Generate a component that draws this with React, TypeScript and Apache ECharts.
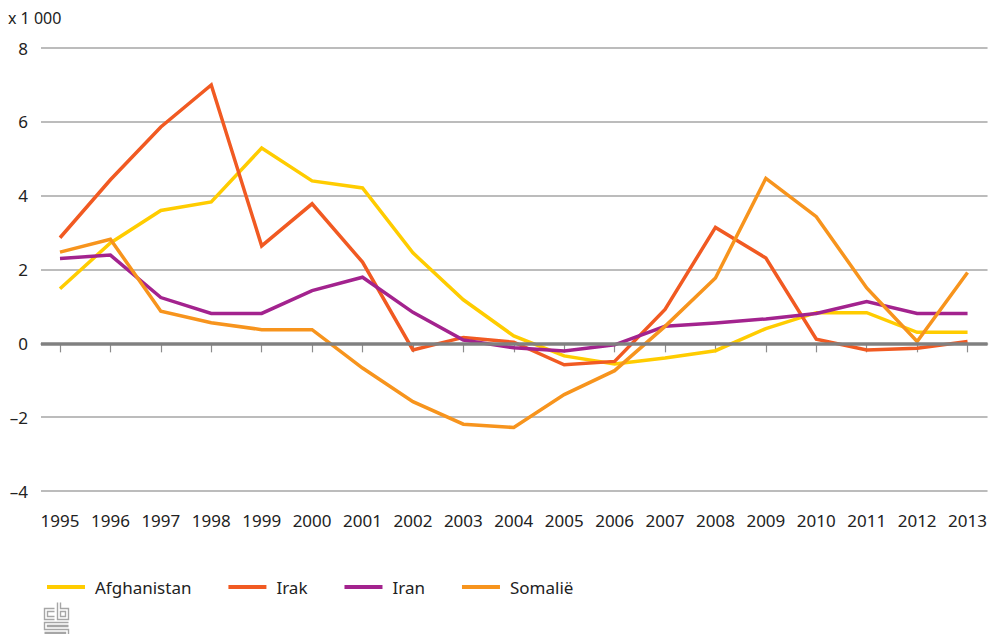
import React, { useEffect, useRef } from "react";
import * as echarts from "echarts";

const years = [1995, 1996, 1997, 1998, 1999, 2000, 2001, 2002, 2003, 2004, 2005, 2006, 2007, 2008, 2009, 2010, 2011, 2012, 2013];
const afghanistan = [1.48, 2.72, 3.6, 3.83, 5.29, 4.4, 4.21, 2.45, 1.18, 0.2, -0.34, -0.56, -0.4, -0.2, 0.4, 0.83, 0.83, 0.3, 0.3];
const irak = [2.86, 4.43, 5.86, 7.0, 2.64, 3.78, 2.2, -0.18, 0.16, 0.03, -0.58, -0.49, 0.92, 3.14, 2.31, 0.11, -0.18, -0.13, 0.05];
const iran = [2.3, 2.39, 1.24, 0.81, 0.81, 1.43, 1.79, 0.84, 0.09, -0.12, -0.21, -0.04, 0.46, 0.55, 0.66, 0.81, 1.13, 0.81, 0.81];
const somalie = [2.47, 2.82, 0.87, 0.56, 0.37, 0.37, -0.67, -1.58, -2.19, -2.28, -1.39, -0.74, 0.46, 1.77, 4.47, 3.43, 1.5, 0.05, 1.92];
const seriesNames = ["Afghanistan", "Irak", "Iran", "Somalië"];
const seriesValues = [afghanistan, irak, iran, somalie];
const seriesColors = ["#ffcc00", "#f15a22", "#a3238e", "#f7941d"];
const yTicks = [-4, -2, 0, 2, 4, 6, 8];

const FONT = "'Noto Sans', 'Open Sans', sans-serif";

export default function App() {
  const ref = useRef<HTMLDivElement>(null);
  useEffect(() => {
    if (!ref.current) return;
    const chart = echarts.init(ref.current, null, { renderer: "svg" });
    const gridLeft = 41;
    const gridRight = 2;
    const firstX = 60;
    const lastX = 968;
    const pxPerYear = (lastX - firstX) / (years[years.length - 1] - years[0]);
    const xMin = years[0] - (firstX - gridLeft) / pxPerYear;
    const xMax = years[years.length - 1] + (990 - gridRight - lastX) / pxPerYear;

    const lineSeries = seriesNames.map((name, i) => ({
      name,
      type: "line",
      data: years.map((y, j) => [y, seriesValues[i][j]]),
      showSymbol: false,
      symbol: "none",
      lineStyle: { color: seriesColors[i], width: 3.5, cap: "butt", join: "miter" },
      itemStyle: { color: seriesColors[i] },
      z: 3,
    }));

    const g = "#a6a6a6";
    const logo = {
      type: "group",
      left: 42,
      top: 600,
      children: [
        { type: "polyline", shape: { points: [[11, 6], [1, 6], [1, 17], [11, 17]] }, style: { stroke: g, fill: null, lineWidth: 1.4 } },
        { type: "polyline", shape: { points: [[11, 9], [4, 9], [4, 14], [11, 14]] }, style: { stroke: g, fill: null, lineWidth: 1.4 } },
        { type: "polyline", shape: { points: [[14, 0], [14, 17], [25, 17], [25, 6], [17, 6], [17, 0]] }, style: { stroke: g, fill: null, lineWidth: 1.4 } },
        { type: "rect", shape: { x: 17, y: 9, width: 5, height: 5 }, style: { stroke: g, fill: null, lineWidth: 1.4 } },
        { type: "polyline", shape: { points: [[25, 20], [1, 20], [1, 27], [25, 27], [25, 34], [1, 34]] }, style: { stroke: g, fill: null, lineWidth: 1.4 } },
        { type: "polyline", shape: { points: [[25, 23], [4, 23], [4, 24], [25, 24]] }, style: { stroke: g, fill: null, lineWidth: 1.4 } },
        { type: "polyline", shape: { points: [[1, 30], [22, 30], [22, 31], [1, 31]] }, style: { stroke: g, fill: null, lineWidth: 1.4 } },
      ],
    };

    chart.setOption({
      animation: false,
      backgroundColor: "#ffffff",
      textStyle: { fontFamily: FONT },
      grid: { left: gridLeft, right: gridRight, top: 48, bottom: 143, containLabel: false },
      legend: {
        data: seriesNames,
        left: 42,
        top: 570,
        icon: "rect",
        itemWidth: 38,
        itemHeight: 4,
        itemGap: 37,
        textStyle: { fontFamily: FONT, fontSize: 17, color: "#222", padding: [0, 0, 4, 5], lineHeight: 20 },
      },
      xAxis: {
        type: "value",
        min: xMin,
        max: xMax,
        splitLine: { show: false },
        axisLine: { show: true, lineStyle: { color: "#a6a6a6", width: 1.5 } },
        axisTick: { show: true, length: 9, lineStyle: { color: "#8c8c8c", width: 1.2 }, customValues: years },
        axisLabel: {
          customValues: years,
          formatter: (v: number) => String(Math.round(v)),
          fontSize: 17,
          fontFamily: FONT,
          color: "#222",
          margin: 21,
        },
      },
      yAxis: {
        type: "value",
        min: yTicks[0],
        max: yTicks[yTicks.length - 1],
        interval: 2,
        axisLine: { show: false },
        axisTick: { show: false },
        splitLine: { show: true, lineStyle: { color: "#a6a6a6", width: 1.5 } },
        axisLabel: {
          formatter: (v: number) => (v < 0 ? "–" + Math.abs(v) : String(v)),
          fontSize: 17,
          fontFamily: FONT,
          color: "#222",
          margin: 13,
        },
      },
      graphic: [
        { type: "text", left: 8, top: 10, style: { text: "x 1 000", font: `16px ${FONT}`, fill: "#222" } },
        logo,
      ],
      series: [
        {
          name: "zero",
          type: "line",
          data: [],
          z: 1,
          silent: true,
          markLine: {
            silent: true,
            symbol: "none",
            label: { show: false },
            lineStyle: { color: "#808080", width: 3.5, type: "solid" },
            data: [{ yAxis: 0 }],
          },
        },
        ...lineSeries,
      ],
    });
    return () => chart.dispose();
  }, []);
  return <div ref={ref} style={{ position: "fixed", left: 0, top: 0, width: 990, height: 634 }} />;
}
